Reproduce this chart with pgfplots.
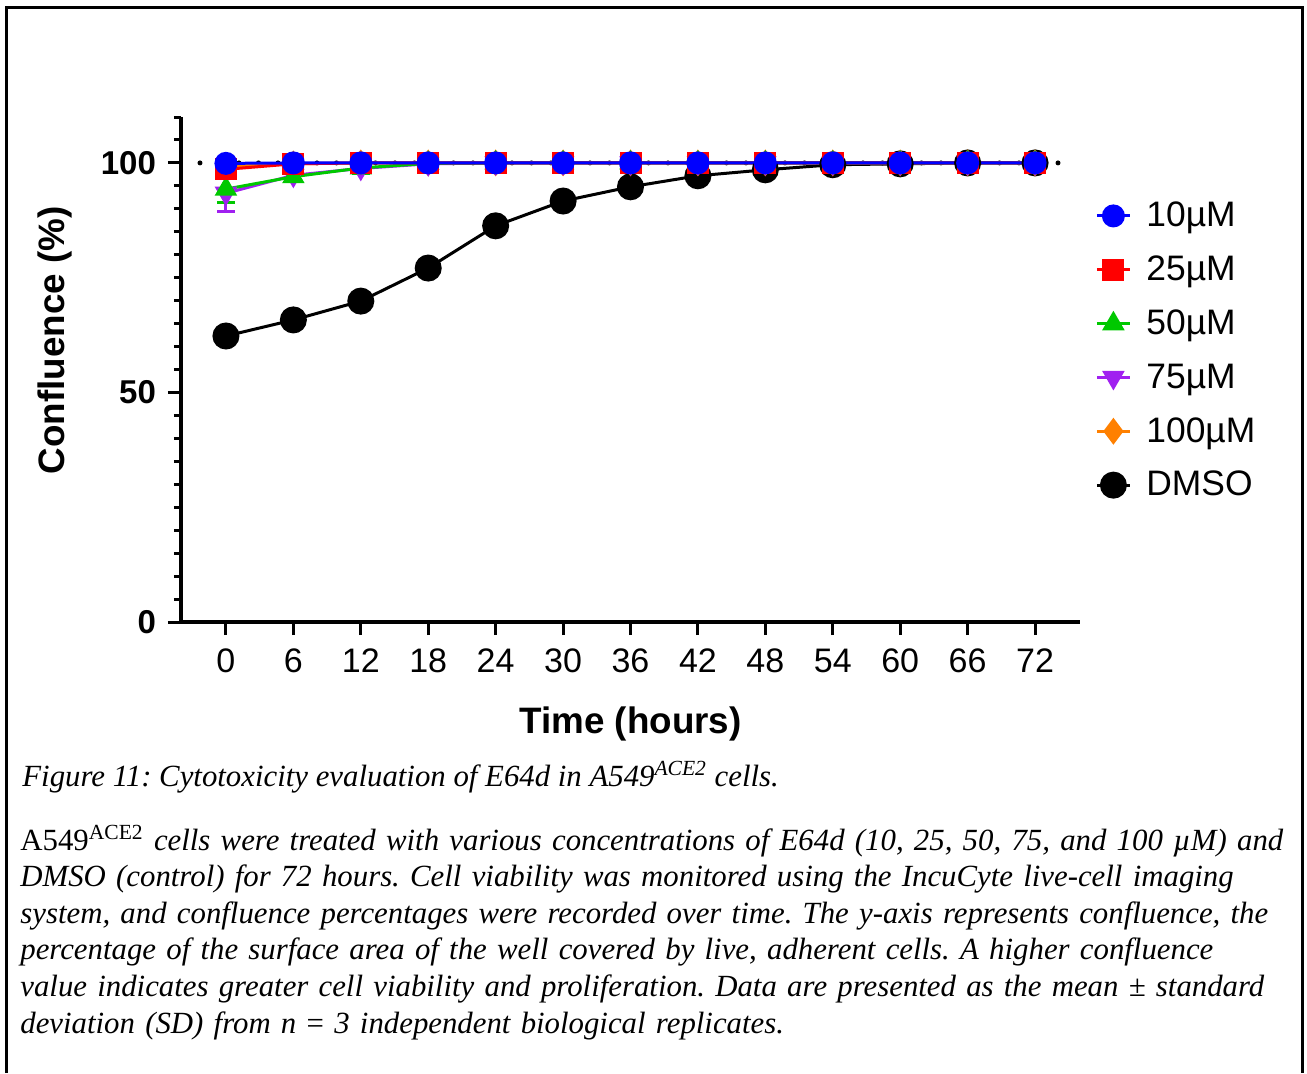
\documentclass[border=0pt]{standalone}
\usepackage{fontspec}
\setmainfont{Liberation Serif}
\newfontfamily\arial{Liberation Sans}
\usepackage{pgfplots}
\pgfplotsset{compat=1.18}
\definecolor{cblue}{RGB}{0,0,255}
\definecolor{cred}{RGB}{255,0,0}
\definecolor{cgreen}{RGB}{0,200,0}
\definecolor{cpurple}{RGB}{160,32,240}
\definecolor{corange}{RGB}{255,128,0}
\begin{document}
\frenchspacing
\begin{tikzpicture}
\useasboundingbox (0,0) rectangle (653.5pt,-536.5pt);
\draw[line width=1.5pt] (3pt,-536.5pt) -- (3pt,-3.5pt) -- (651pt,-3.5pt) -- (651pt,-536.5pt);
\begin{axis}[
  at={(90.5pt,-311pt)}, anchor=south west,
  scale only axis, width=449.5pt, height=252.5pt,
  xmin=-4, xmax=76, ymin=0, ymax=110,
  axis lines=left, axis line style={line width=2pt, -},
  xtick={0,6,...,72}, ytick={0,50,100},
  minor ytick={5,10,...,110},
  tick align=outside, major tick length=6.5pt, minor tick length=3.5pt,
  every tick/.style={line width=1.5pt, black},
  /pgf/number format/assume math mode=true,
  xticklabel style={font=\arial\fontsize{17}{20}\selectfont, yshift=-3.5pt},
  yticklabel style={font=\arial\bfseries\fontsize{16.5}{20}\selectfont, xshift=-2.5pt},
  xlabel={Time (hours)}, ylabel={Confluence (\%)},
  label style={font=\arial\bfseries\fontsize{18.4}{22}\selectfont},
  xlabel style={at={(axis description cs:0.5,0)}, anchor=center, yshift=-51pt},
  ylabel style={at={(axis description cs:-0.14,0.558)}, anchor=center},
  reverse legend,
  legend cell align=left,
  legend image code/.code={\draw[mark repeat=2,mark phase=2] plot coordinates {(0pt,0pt) (8.25pt,0pt) (16.5pt,0pt)};},
  legend style={at={(axis description cs:1.0167,0.5376)}, anchor=west, draw=none, fill=none,
    font=\arial\fontsize{17.7}{21}\selectfont, row sep=9.1pt, inner sep=0pt,
    /tikz/every odd column/.append style={column sep=5.5pt}},
  clip=false,
]
\addplot[forget plot, black, line width=2.5pt, line cap=round, dash pattern=on 0pt off 9.75pt] coordinates {(-2.31,100) (75.4,100)};
% DMSO
\addplot[black, line width=1.5pt, mark=*, mark size=6pt, mark options={solid}] coordinates {
(0,62.3)(6,65.8)(12,69.9)(18,77.1)(24,86.3)(30,91.7)(36,94.8)(42,97.2)(48,98.5)(54,99.6)(60,99.8)(66,100)(72,100)};
\addlegendentry{DMSO}
% 100 uM
\addplot[corange, line width=1.5pt, mark=diamond*, mark size=5.5pt] coordinates {
(0,99.3)(6,99.8)(12,100)(18,100)(24,100)(30,100)(36,100)(42,100)(48,100)(54,100)(60,100)(66,100)(72,100)};
\addlegendentry{100µM}
% 75 uM
\addplot[cpurple, line width=1.5pt, mark=triangle*, mark size=5pt, mark options={rotate=180},
  error bars/.cd, y dir=both, y explicit, error bar style={line width=1.5pt}, error mark options={rotate=90, mark size=4.5pt, line width=1.5pt}] coordinates {
(0,93.4) +- (0,4.0) (6,97.3) +- (0,1.0) (12,98.8) +- (0,0.8) (18,99.8) +- (0,0) (24,100) +- (0,0) (30,100) +- (0,0) (36,100) +- (0,0) (42,100) +- (0,0) (48,100) +- (0,0) (54,100) +- (0,0) (60,100) +- (0,0) (66,100) +- (0,0) (72,100) +- (0,0)};
\addlegendentry{75µM}
% 50 uM
\addplot[cgreen, line width=1.5pt, mark=triangle*, mark size=5pt,
  error bars/.cd, y dir=both, y explicit, error bar style={line width=1.5pt}, error mark options={rotate=90, mark size=4.5pt, line width=1.5pt}] coordinates {
(0,94.3) +- (0,3.0) (6,97.0) +- (0,0.8) (12,98.9) +- (0,1.3) (18,99.9) +- (0,0) (24,100) +- (0,0) (30,100) +- (0,0) (36,100) +- (0,0) (42,100) +- (0,0) (48,100) +- (0,0) (54,100) +- (0,0) (60,100) +- (0,0) (66,100) +- (0,0) (72,100) +- (0,0)};
\addlegendentry{50µM}
% 25 uM
\addplot[cred, line width=1.5pt, mark=square*, mark size=4.75pt] coordinates {
(0,98.6)(6,99.8)(12,100)(18,100)(24,100)(30,100)(36,100)(42,100)(48,100)(54,100)(60,100)(66,100)(72,100)};
\addlegendentry{25µM}
% 10 uM
\addplot[cblue, line width=1.5pt, mark=*, mark size=5pt] coordinates {
(0,99.9)(6,100)(12,100)(18,100)(24,100)(30,100)(36,100)(42,100)(48,100)(54,100)(60,100)(66,100)(72,100)};
\addlegendentry{10µM}
\end{axis}
\node[anchor=base west, inner sep=0pt, font=\fontsize{15.4}{18.3}\selectfont\itshape] at (11pt,-393pt) {Figure 11: Cytotoxicity evaluation of E64d in A549\textsuperscript{ACE2} cells.};
\node[anchor=base west, inner sep=0pt, text width=645pt, align=left, font=\fontsize{15.4}{18.3}\selectfont] at (10pt,-425pt) {%
A549\textsuperscript{ACE2} \textit{cells were treated with various concentrations of E64d (10, 25, 50, 75, and 100 µM) and}\\
\textit{DMSO (control) for 72 hours. Cell viability was monitored using the IncuCyte live-cell imaging}\\
\textit{system, and confluence percentages were recorded over time. The y-axis represents confluence, the}\\
\textit{percentage of the surface area of the well covered by live, adherent cells. A higher confluence}\\
\textit{value indicates greater cell viability and proliferation. Data are presented as the mean ± standard}\\
\textit{deviation (SD) from n} = \textit{3 independent biological replicates.}};
\end{tikzpicture}
\end{document}
